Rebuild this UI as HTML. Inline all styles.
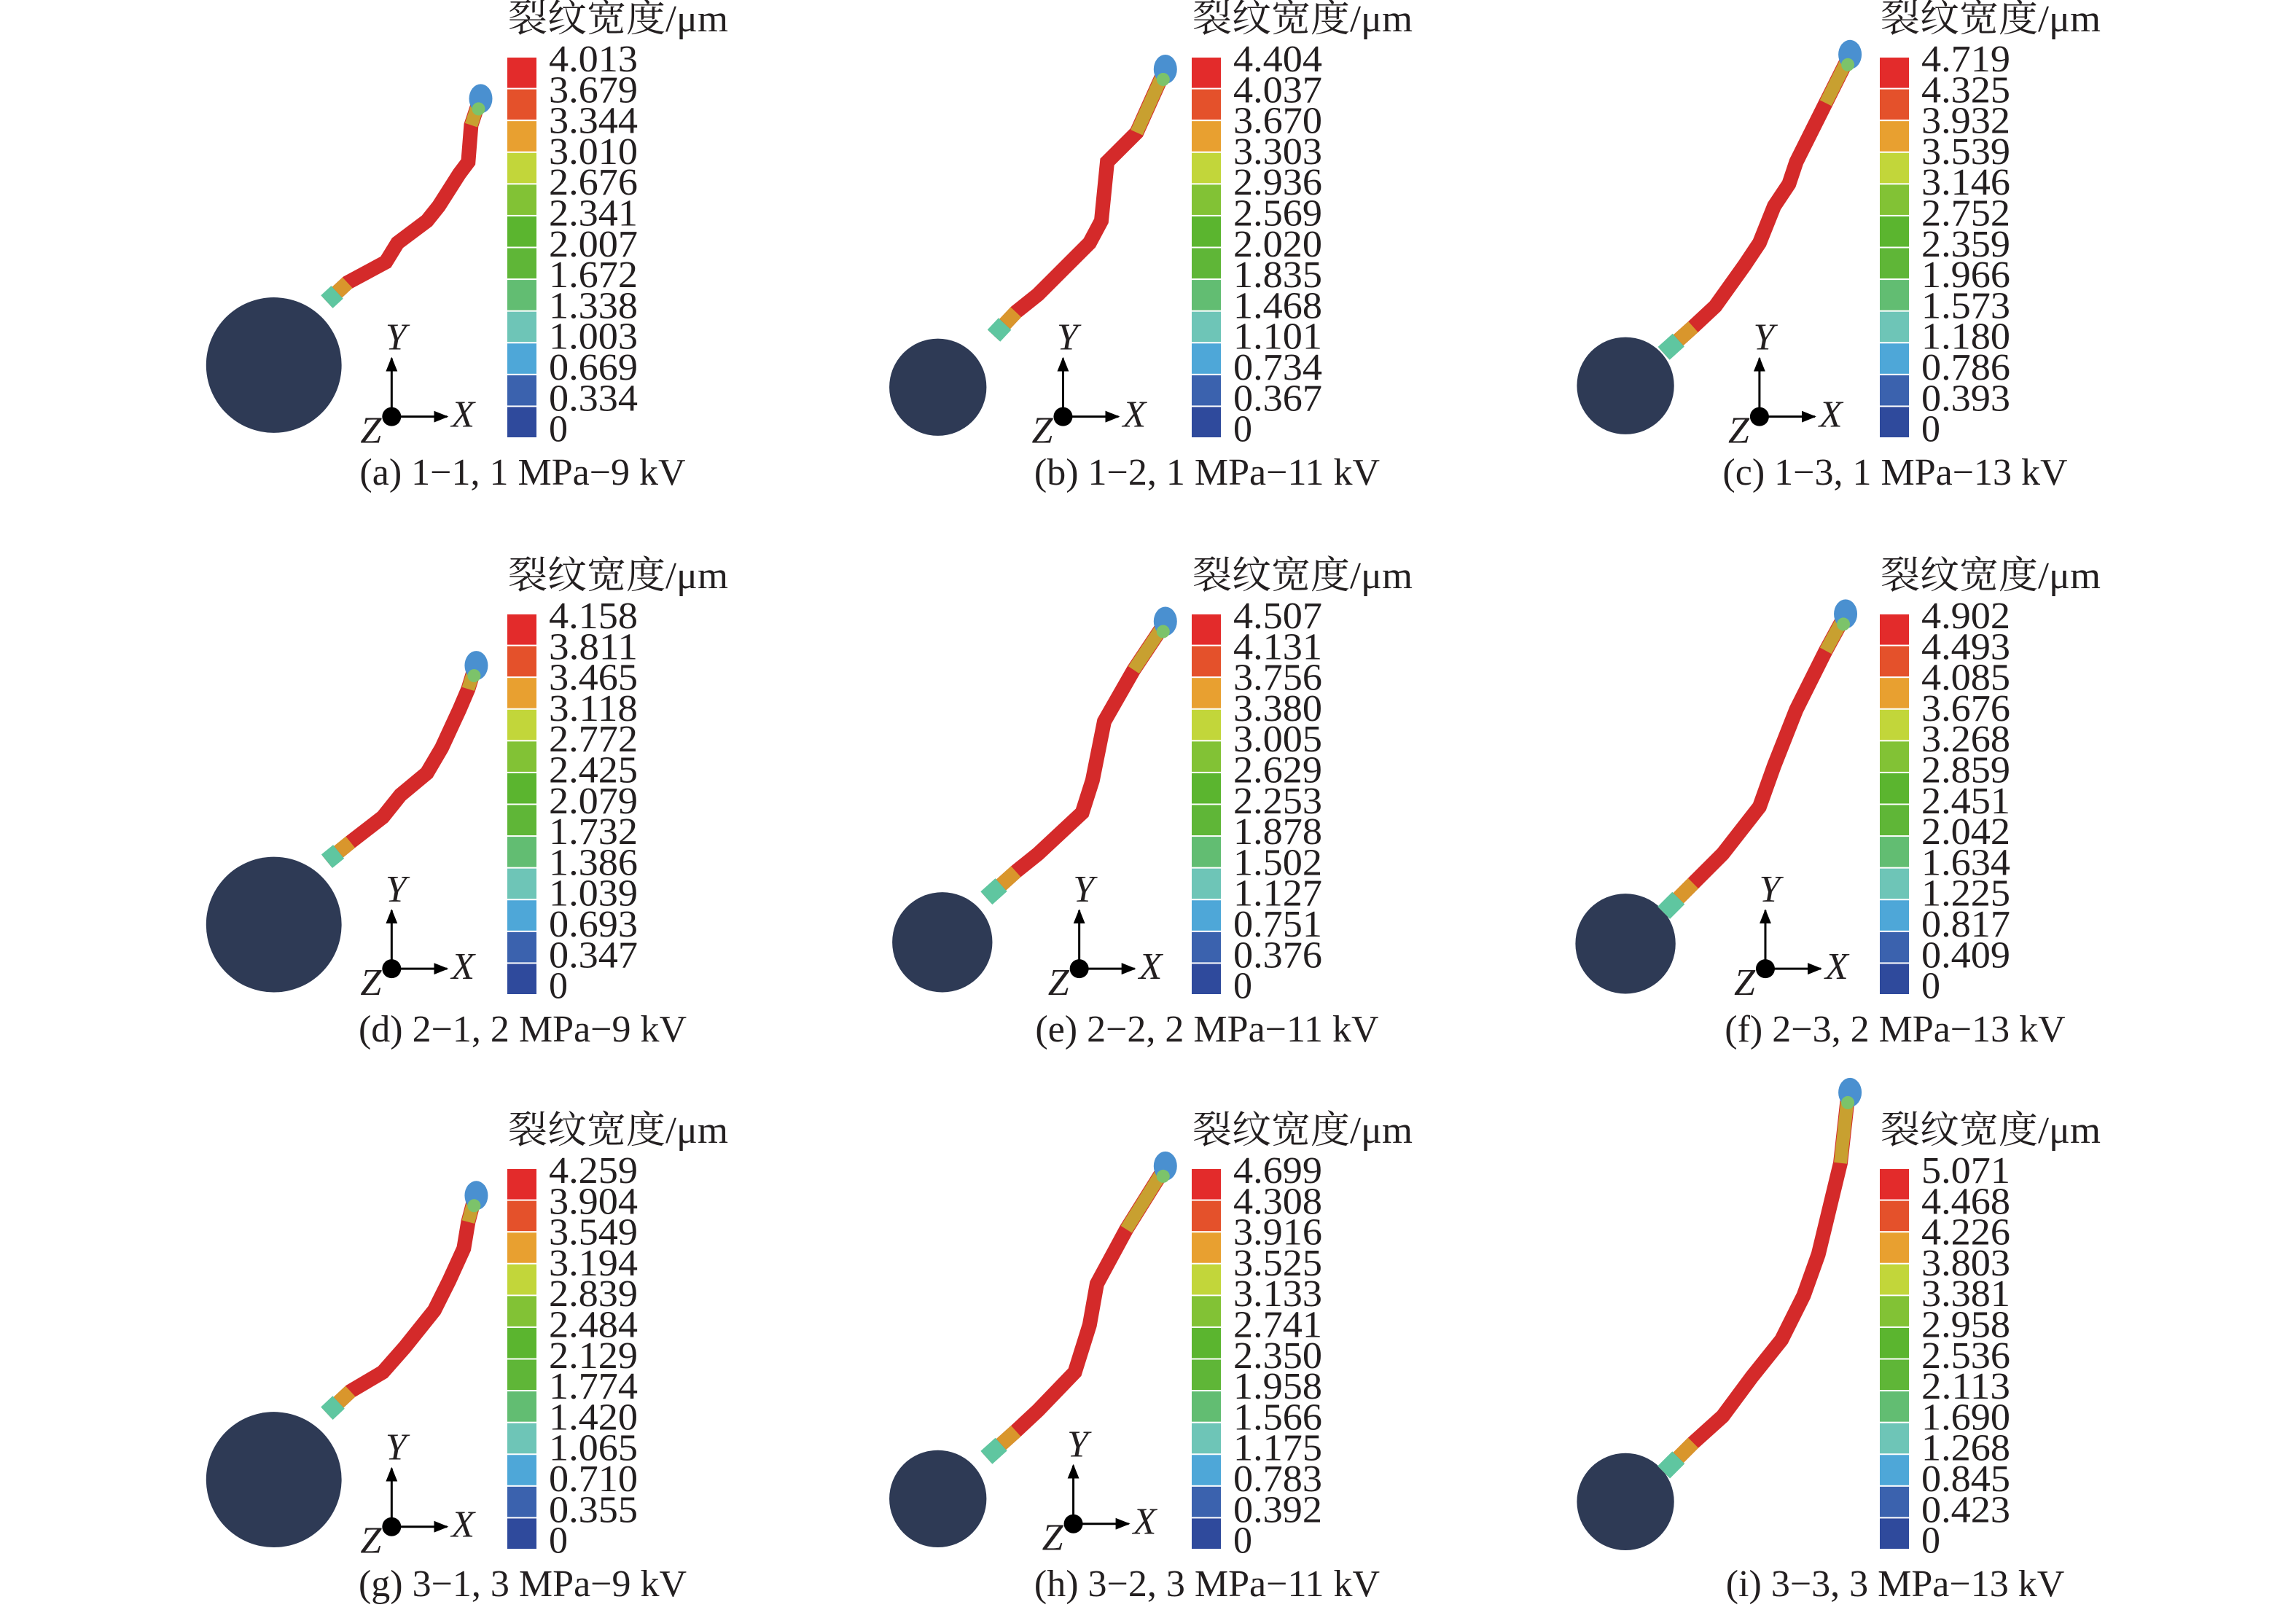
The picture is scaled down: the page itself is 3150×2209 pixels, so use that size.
<!DOCTYPE html>
<html><head><meta charset="utf-8"><style>
html,body{margin:0;padding:0;background:#fff}
svg{display:block}
text{font-family:"Liberation Serif","Noto Serif CJK SC",serif;fill:#231f20}
</style></head><body>
<svg id="c" width="3150" height="2209" viewBox="0 0 3150 2209"></svg>
<script>
const labels=[
["4.013","3.679","3.344","3.010","2.676","2.341","2.007","1.672","1.338","1.003","0.669","0.334","0"],
["4.404","4.037","3.670","3.303","2.936","2.569","2.020","1.835","1.468","1.101","0.734","0.367","0"],
["4.719","4.325","3.932","3.539","3.146","2.752","2.359","1.966","1.573","1.180","0.786","0.393","0"],
["4.158","3.811","3.465","3.118","2.772","2.425","2.079","1.732","1.386","1.039","0.693","0.347","0"],
["4.507","4.131","3.756","3.380","3.005","2.629","2.253","1.878","1.502","1.127","0.751","0.376","0"],
["4.902","4.493","4.085","3.676","3.268","2.859","2.451","2.042","1.634","1.225","0.817","0.409","0"],
["4.259","3.904","3.549","3.194","2.839","2.484","2.129","1.774","1.420","1.065","0.710","0.355","0"],
["4.699","4.308","3.916","3.525","3.133","2.741","2.350","1.958","1.566","1.175","0.783","0.392","0"],
["5.071","4.468","4.226","3.803","3.381","2.958","2.536","2.113","1.690","1.268","0.845","0.423","0"]];
const captions=["(a) 1−1, 1 MPa−9 kV","(b) 1−2, 1 MPa−11 kV","(c) 1−3, 1 MPa−13 kV","(d) 2−1, 2 MPa−9 kV","(e) 2−2, 2 MPa−11 kV","(f) 2−3, 2 MPa−13 kV","(g) 3−1, 3 MPa−9 kV","(h) 3−2, 3 MPa−11 kV","(i) 3−3, 3 MPa−13 kV"];
const circles=[[186,248,46],[637,263,33],[1104,262,33],[186,628,46],[640,640,34],[1104,641,34],[186,1005,46],[637,1018,33],[1104,1020,33]];
const triads=[[266,283],[722,283],[1195,283],[266,658],[733,658],[1199,658],[266,1037],[729,1035],null];
const cracks=[
[[222,205],[236,192],[262,178],[270,165],[290,150],[298,140],[312,118],[318,110],[320,85],[325,70]],
[[675,228],[690,212],[705,200],[720,185],[740,165],[748,150],[752,110],[772,90],[790,50]],
[[1130,240],[1150,222],[1165,208],[1185,180],[1195,165],[1205,140],[1215,125],[1220,110],[1240,70],[1255,40]],
[[222,585],[238,572],[260,555],[272,540],[290,525],[300,508],[312,482],[318,468],[322,455]],
[[670,610],[690,592],[705,580],[735,552],[742,530],[750,490],[770,455],[790,425]],
[[1130,620],[1150,600],[1170,580],[1195,548],[1205,520],[1220,482],[1240,442],[1252,420]],
[[222,960],[238,945],[260,932],[275,915],[295,890],[305,870],[315,848],[318,830],[322,815]],
[[670,990],[690,972],[705,958],[730,932],[740,900],[745,872],[765,835],[790,795]],
[[1130,1000],[1150,980],[1170,962],[1190,935],[1210,910],[1225,880],[1235,852],[1250,790],[1255,745]]];
const cbColors=["#e32b2b","#e4512b","#e8a030","#c2d63a","#82c235","#5bb52f","#5fb637","#62bd72","#6ec5b7","#4ea7d8","#3b62ae","#2f4a9c"];
const colX=[0,939,1883], rowY=[0,764,1525];
const S=2.02;
const NS="http://www.w3.org/2000/svg";
const svg=document.getElementById('c');
function mk(tag,attrs,parent){const e=document.createElementNS(NS,tag);for(const k in attrs)e.setAttribute(k,attrs[k]);(parent||svg).appendChild(e);return e;}
const defs=mk('defs',{});
const m=mk('marker',{id:'ah',markerWidth:20,markerHeight:16,refX:18,refY:8,orient:'auto',markerUnits:'userSpaceOnUse'},defs);
mk('path',{d:'M0,0 L20,8 L0,16 Z',fill:'#000'},m);
for(let p=0;p<9;p++){
  const dx=colX[p%3], dy=rowY[Math.floor(p/3)];
  const g=mk('g',{});
  
  
  const c=circles[p];
  const ci=mk('circle',{cx:c[0]*S,cy:c[1]*S,r:c[2]*S,fill:'#2e3a55'},g);
  
  
  const pts=cracks[p].map(q=>[q[0]*S,q[1]*S]);
  const pl=mk('polyline',{points:pts.map(q=>q.join(',')).join(' '),fill:'none',stroke:'#d42a2a','stroke-width':20,'stroke-linejoin':'miter'},g);
  
  
  const a=pts[0],b=pts[1];
  const st=mk('line',{x1:a[0],y1:a[1],x2:(a[0]+b[0])/2,y2:(a[1]+b[1])/2,stroke:'#5fc6a0','stroke-width':24},g);
  
  
  mk('line',{x1:(a[0]+b[0])/2,y1:(a[1]+b[1])/2,x2:b[0],y2:b[1],stroke:'#d9962c','stroke-width':20},g);
  const n=pts.length, t=pts[n-1], u=pts[n-2];
  mk('line',{x1:u[0],y1:u[1],x2:t[0],y2:t[1],stroke:'#c8a030','stroke-width':18},g);
  const tip=mk('ellipse',{cx:t[0]+3,cy:t[1]-6,rx:16,ry:20,fill:'#4a90d0'},g);
  
  
  mk('ellipse',{cx:t[0],cy:t[1]+8,rx:9,ry:9,fill:'#7cc36a'},g);
  const cb=mk('g',{},g);
  
  
  const top=79+dy, h=(602-79)/12;
  cbColors.forEach((col,i)=>{const r=mk('rect',{x:696+dx,y:top+i*h,width:40,height:h-2,fill:col},cb);
    
    });
  labels[p].forEach((lb,i)=>{const tx=mk('text',{x:753+dx,y:80+dy+i*42.3+18,'font-size':52,textLength:122,lengthAdjust:'spacingAndGlyphs'},cb);
    if(lb.length<3){tx.removeAttribute('textLength');tx.removeAttribute('lengthAdjust');}
    tx.textContent=lb;
    
    });
  const ti=mk('text',{x:697+dx,y:43+dy,'font-size':52,textLength:302,lengthAdjust:'spacingAndGlyphs'},g);ti.textContent='裂纹宽度/μm';
  
  
  const cap=mk('text',{x:717+dx,y:665+dy,'font-size':52,'text-anchor':'middle'},g);cap.textContent=captions[p];
  
  
  const tr=triads[p];
  if(tr){
    const x=tr[0]*S,y=tr[1]*S;
    const tg=mk('g',{},g);
    
    
    mk('line',{x1:x,y1:y,x2:x,y2:y-80,stroke:'#000','stroke-width':3,'marker-end':'url(#ah)'},tg);
    mk('line',{x1:x,y1:y,x2:x+76,y2:y,stroke:'#000','stroke-width':3,'marker-end':'url(#ah)'},tg);
    mk('circle',{cx:x,cy:y,r:13,fill:'#000'},tg);
    const ty=mk('text',{x:x+6,y:y-92,'font-size':52,'font-style':'italic','text-anchor':'middle'},tg);ty.textContent='Y';
    const tx=mk('text',{x:x+82,y:y+14,'font-size':52,'font-style':'italic'},tg);tx.textContent='X';
    const tz=mk('text',{x:x-14,y:y+36,'font-size':52,'font-style':'italic','text-anchor':'end'},tg);tz.textContent='Z';
  }
}
</script>
</body></html>
